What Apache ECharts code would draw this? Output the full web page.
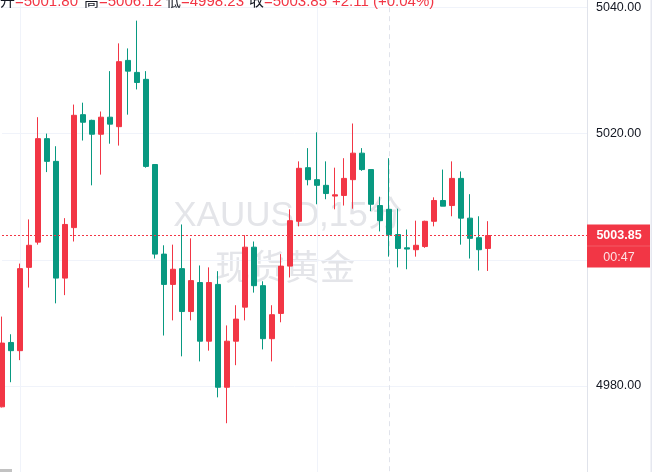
<!DOCTYPE html>
<html><head><meta charset="utf-8">
<script src="https://cdn.jsdelivr.net/npm/echarts@6/dist/echarts.min.js"></script>
<style>html,body{margin:0;padding:0;background:#fff;}#c{width:652px;height:472px;}</style>
</head><body><div id="c"></div>
<script>
// 15-minute slots (55 filled candles + empty future slots)
const categories = Array.from({length: 66}, (_, i) => 'k' + (i + 1));
const opens  = [4976.7,4986.9,4985.6,4998.8,5002.8,5019.2,5015.6,4997.1,5005.1,5023.0,5022.1,5019.9,5022.6,5021.1,5031.6,5029.7,5028.6,5015.1,5000.9,4996.1,4998.6,4991.8,4996.4,4987.1,4996.1,4979.8,4987.1,4992.5,5002.0,4995.9,4987.5,4991.5,4999.0,5006.1,5014.6,5012.7,5011.8,5010.1,5010.2,5012.7,5016.9,5014.3,5008.6,5008.0,5004.0,5001.9,5001.6,5002.1,5006.1,5009.4,5008.6,5012.9,5006.6,5003.5,5001.80];
const closes = [4986.8,4985.6,4998.6,5002.3,5019.2,5015.6,4997.1,5005.6,5022.9,5021.8,5019.9,5022.6,5021.5,5031.4,5029.9,5028.1,5014.8,5000.9,4996.1,4998.5,4991.8,4996.7,4987.1,4996.4,4979.8,4987.1,4990.6,5002.0,4995.9,4987.5,4991.3,4999.0,5006.2,5014.5,5012.7,5011.8,5010.5,5010.3,5012.9,5016.9,5014.3,5008.8,5006.2,5004.0,5001.8,5001.7,5002.3,5006.1,5009.4,5008.5,5012.9,5006.6,5003.4,5001.6,5003.85];
const lows   = [4976.6,4980.6,4984.1,4995.6,5002.4,5013.9,4993.1,4994.4,5002.9,5018.9,5011.8,5013.5,5018.4,5018.1,5023.0,5027.0,5014.6,5000.2,4988.0,4990.4,4984.7,4990.4,4983.9,4985.6,4978.2,4974.1,4983.3,4990.4,4994.8,4985.8,4983.9,4990.1,4997.2,5005.3,5011.8,5008.8,5009.6,5008.0,5008.6,5008.1,5014.1,5007.7,5004.5,5000.5,4998.8,4998.5,5000.5,5001.9,5005.3,5008.5,5006.9,5002.4,5000.2,4998.3,4998.23];
const highs  = [4991.0,4988.2,4999.4,5006.4,5022.6,5020.0,5018.0,5006.6,5024.6,5024.9,5022.2,5023.5,5029.9,5034.3,5033.5,5037.9,5029.9,5015.1,5002.3,5002.4,5005.6,5003.4,4999.1,4998.8,4998.2,4989.6,4992.8,5003.9,5002.9,4996.6,4992.8,5000.9,5008.0,5015.6,5017.7,5020.2,5015.6,5014.6,5016.1,5021.6,5017.7,5014.3,5010.0,5016.1,5008.1,5004.8,5006.2,5006.2,5009.9,5014.3,5015.6,5014.0,5010.4,5006.9,5006.12];
const yTicks = [4980, 5000, 5020, 5040];
const headerLabels = ['开', '高', '低', '收'];
const headerValues = ['=5001.80', '=5006.12', '=4998.23', '=5003.85'];
const headerChange = '+2.11 (+0.04%)';
const lastPrice = 5003.85;
const countdown = '00:47';
const watermark = ['XAUUSD,15分', '现货黄金'];

const candleData = opens.map((o, i) => [o, closes[i], lows[i], highs[i]]);
const priceLine = [[categories[0], lastPrice], [categories[categories.length - 1], lastPrice]];
const UP = '#F23645', DOWN = '#089981';
const FONT = '"Liberation Sans", Arial, "Noto Sans CJK SC", sans-serif';

const chart = echarts.init(document.getElementById('c'), null, {renderer: 'canvas'});
chart.setOption({
  animation: false,
  backgroundColor: '#ffffff',
  grid: {left: 2, right: 65, top: -118.8, bottom: -40.2, containLabel: false, outerBoundsMode: 'none'},
  xAxis: [{
    type: 'category', data: categories, boundaryGap: false,
    axisLine: {show: false}, axisTick: {show: false}, axisLabel: {show: false},
    splitLine: {show: true, interval: (idx) => idx === 2 || idx === 35, lineStyle: {color: '#f0f3fa', width: 1}}
  }, {
    type: 'category', data: categories, boundaryGap: false, position: 'top',
    axisLine: {show: false}, axisTick: {show: false}, axisLabel: {show: false},
    splitLine: {show: true, interval: (idx) => idx === 43, lineStyle: {color: '#e0e3eb', width: 1, type: [5, 4]}}
  }],
  yAxis: {
    type: 'value', position: 'right', min: 4960, max: 5060, interval: 20,
    axisLine: {show: true, lineStyle: {color: '#e0e3eb'}},
    axisTick: {show: false},
    axisLabel: {margin: 9, color: '#131722', fontSize: 12.5, fontFamily: FONT,
      formatter: (v) => yTicks.indexOf(v) >= 0 ? v.toFixed(2) : ''},
    splitLine: {show: true, lineStyle: {color: '#f0f3fa', width: 1}}
  },
  series: [{
    type: 'candlestick', data: candleData, barWidth: 5, clip: false, xAxisIndex: 0,
    itemStyle: {color: UP, color0: DOWN, borderColor: UP, borderColor0: DOWN, borderWidth: 1}
  }, {
    type: 'line', data: priceLine, xAxisIndex: 0, symbol: 'none', silent: true, z: 3,
    color: UP,
    lineStyle: {color: UP, width: 1, type: [2, 2]}
  }]
});

const py = chart.convertToPixel({yAxisIndex: 0}, lastPrice);
const headerX = [0, 84, 166, 249];
const g = [];
watermark.forEach((t, i) => {
  g.push({type: 'text', z: -10, x: i === 0 ? 288 : 285, y: i === 0 ? 216 : 270,
    style: {text: t, font: '35px ' + FONT, fill: '#e4e5e9', align: 'center', verticalAlign: 'middle'}});
});
headerLabels.forEach((t, i) => {
  g.push({type: 'text', z: 50, x: headerX[i], y: 9.5,
    style: {text: t, font: '15px ' + FONT, fill: '#131722', align: 'left', verticalAlign: 'bottom'}});
  g.push({type: 'text', z: 50, x: headerX[i] + 15, y: 9.5,
    style: {text: headerValues[i], font: '15px ' + FONT, fill: UP, align: 'left', verticalAlign: 'bottom'}});
});
g.push({type: 'text', z: 50, x: 332, y: 9.5,
  style: {text: headerChange, font: '15px ' + FONT, fill: UP, align: 'left', verticalAlign: 'bottom'}});
// price tag on the right scale
g.push({type: 'rect', z: 100, shape: {x: 587, y: py - 11, width: 63, height: 43}, style: {fill: UP}});
g.push({type: 'rect', z: 101, shape: {x: 587, y: py + 10, width: 63, height: 1}, style: {fill: 'rgba(255,255,255,0.18)'}});
g.push({type: 'text', z: 102, x: 619, y: py,
  style: {text: lastPrice.toFixed(2), font: 'bold 12.5px ' + FONT, fill: '#ffffff', align: 'center', verticalAlign: 'middle'}});
g.push({type: 'text', z: 102, x: 619, y: py + 22,
  style: {text: countdown, font: '12.5px ' + FONT, fill: 'rgba(255,255,255,0.85)', align: 'center', verticalAlign: 'middle'}});
g.push({type: 'rect', z: 100, shape: {x: 650.5, y: 0, width: 1.5, height: 472}, style: {fill: '#e6e8f0'}});
g.push({type: 'rect', z: 100, shape: {x: 0, y: 469, width: 12, height: 3}, style: {fill: '#c2c2c2'}});
chart.setOption({graphic: g});
</script></body></html>
